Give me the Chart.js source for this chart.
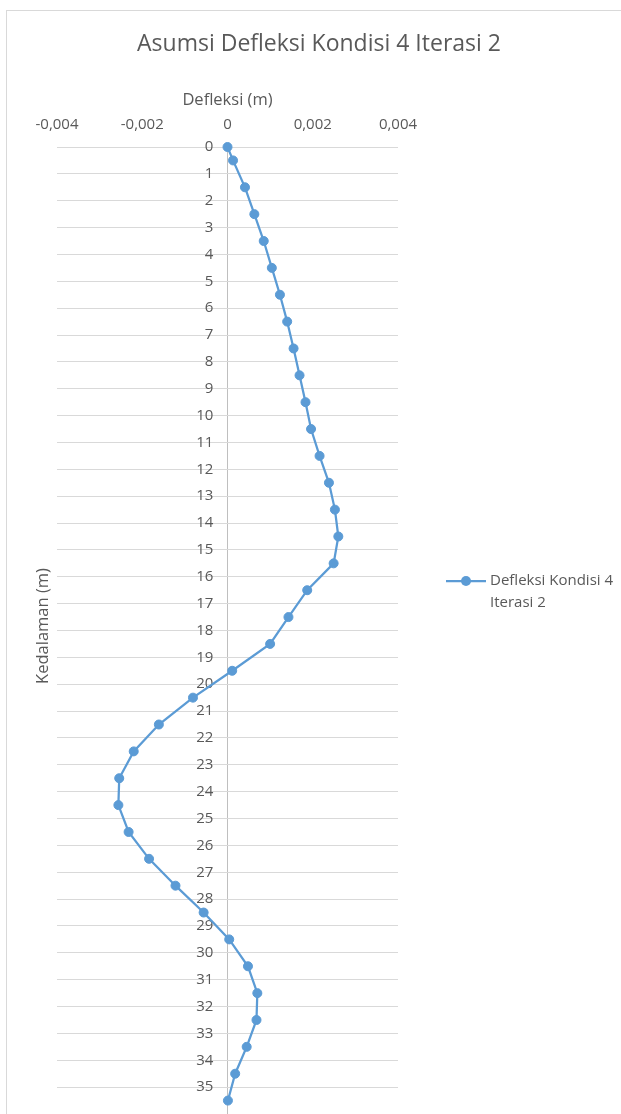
<!DOCTYPE html>
<html>
<head>
<meta charset="utf-8">
<script src="https://cdn.jsdelivr.net/npm/chart.js@4.4.1/dist/chart.umd.min.js"></script>
<style>
  html, body { margin: 0; padding: 0; background: #ffffff; overflow: hidden; width: 621px; height: 1114px; }
  canvas { display: block; }
</style>
</head>
<body>
<canvas id="c" width="621" height="1140"></canvas>
<script>
// ---- Data ----
const chartTitle = 'Asumsi Defleksi Kondisi 4 Iterasi 2';
const xAxisTitle = 'Defleksi (m)';
const yAxisTitle = 'Kedalaman (m)';
const seriesName = ['Defleksi Kondisi 4', 'Iterasi 2'];

const depths = [0, 0.5, 1.5, 2.5, 3.5, 4.5, 5.5, 6.5, 7.5, 8.5, 9.5, 10.5, 11.5, 12.5,
  13.5, 14.5, 15.5, 16.5, 17.5, 18.5, 19.5, 20.5, 21.5, 22.5, 23.5, 24.5, 25.5,
  26.5, 27.5, 28.5, 29.5, 30.5, 31.5, 32.5, 33.5, 34.5, 35.5];

const deflections = [0, 0.00013, 0.00041, 0.00063, 0.00085, 0.00104, 0.00123, 0.00140,
  0.00155, 0.00169, 0.00183, 0.00196, 0.00216, 0.00238, 0.00252, 0.00260, 0.00249,
  0.00187, 0.00143, 0.00100, 0.00011, -0.00081, -0.00161, -0.00220, -0.00254,
  -0.00256, -0.00232, -0.00184, -0.00122, -0.00056, 0.00004, 0.00048, 0.00070,
  0.00068, 0.00045, 0.00018, 0.00001];

const xTickLabels = ['-0,004', '-0,002', '0', '0,002', '0,004'];
const xMin = -0.004, xMax = 0.004, xStep = 0.002;
const yMin = 0, yMax = 36, yStep = 1;

// ---- Styles ----
const textColor = '#595959';
const gridColor = '#d9d9d9';
const axisLineColor = '#bfbfbf';
const seriesColor = '#5b9bd5';
const fontFamily = '"Open Sans", "Noto Sans", sans-serif';
const yLabelAnchorX = -0.00033; // y tick labels sit just left of the zero line

const points = depths.map((d, i) => ({ x: deflections[i], y: d }));

const decorPlugin = {
  id: 'decor',
  beforeDraw(chart) {
    const ctx = chart.ctx;
    ctx.save();
    ctx.fillStyle = '#ffffff';
    ctx.fillRect(0, 0, chart.width, chart.height);
    ctx.strokeStyle = gridColor;
    ctx.lineWidth = 1;
    ctx.strokeRect(6.5, 10.5, 800, 1300);
    ctx.restore();
  },
  afterDraw(chart) {
    const ctx = chart.ctx;
    ctx.save();
    ctx.fillStyle = textColor;
    ctx.font = '23px ' + fontFamily;
    ctx.textAlign = 'center';
    ctx.textBaseline = 'middle';
    ctx.fillText(chartTitle, 319, 44);
    ctx.font = '16.5px ' + fontFamily;
    ctx.translate(43, 626);
    ctx.rotate(-Math.PI / 2);
    ctx.fillText(yAxisTitle, 0, 0);
    ctx.restore();
    // Legend
    ctx.save();
    const ly = 581;
    ctx.strokeStyle = seriesColor;
    ctx.lineWidth = 2.25;
    ctx.beginPath();
    ctx.moveTo(446, ly);
    ctx.lineTo(486, ly);
    ctx.stroke();
    ctx.fillStyle = seriesColor;
    ctx.beginPath();
    ctx.arc(466, ly, 5, 0, Math.PI * 2);
    ctx.fill();
    ctx.fillStyle = textColor;
    ctx.font = '15px ' + fontFamily;
    ctx.textAlign = 'left';
    ctx.textBaseline = 'middle';
    ctx.fillText(seriesName[0], 490, ly);
    ctx.fillText(seriesName[1], 490, ly + 22);
    ctx.restore();
  }
};

new Chart(document.getElementById('c'), {
  type: 'scatter',
  data: {
    datasets: [{
      label: seriesName.join(' '),
      data: points,
      showLine: true,
      borderColor: seriesColor,
      backgroundColor: seriesColor,
      borderWidth: 2.25,
      pointRadius: 4.5,
      pointBorderWidth: 1,
      pointBackgroundColor: seriesColor,
      pointBorderColor: seriesColor,
      tension: 0,
      clip: false
    }]
  },
  options: {
    responsive: false,
    animation: false,
    devicePixelRatio: 1,
    layout: { padding: { left: 57, right: 223, top: 80, bottom: 26 } },
    plugins: {
      legend: { display: false },
      title: { display: false },
      tooltip: { enabled: false }
    },
    scales: {
      x: {
        type: 'linear',
        position: 'top',
        min: xMin,
        max: xMax,
        afterFit(scale) { scale.height = 67; },
        ticks: {
          stepSize: xStep,
          padding: 13,
          color: textColor,
          font: { size: 15, family: fontFamily },
          maxRotation: 0,
          callback: (v) => xTickLabels[Math.round((v - xMin) / xStep)]
        },
        grid: {
          display: true,
          drawTicks: false,
          tickLength: 0,
          lineWidth: 1,
          color: (c) => (c.tick && Math.abs(c.tick.value) < 1e-12 ? axisLineColor : 'rgba(0,0,0,0)')
        },
        border: { display: false },
        title: {
          display: true,
          text: xAxisTitle,
          color: textColor,
          font: { size: 16.5, family: fontFamily },
          padding: { top: 10, bottom: 0 }
        }
      },
      y: {
        type: 'linear',
        reverse: true,
        position: { x: yLabelAnchorX },
        min: yMin,
        max: yMax,
        afterFit(scale) { scale.paddingTop = 0; scale.paddingBottom = 0; },
        ticks: {
          stepSize: yStep,
          padding: 0,
          color: textColor,
          font: { size: 15, family: fontFamily },
          callback: (v) => (v === yMax ? '' : String(v))
        },
        grid: {
          color: (c) => (c.tick && c.tick.value === yMax ? 'rgba(0,0,0,0)' : gridColor),
          lineWidth: 1,
          drawTicks: false,
          tickLength: 0
        },
        border: { display: false }
      }
    }
  },
  plugins: [decorPlugin]
});
</script>
</body>
</html>
